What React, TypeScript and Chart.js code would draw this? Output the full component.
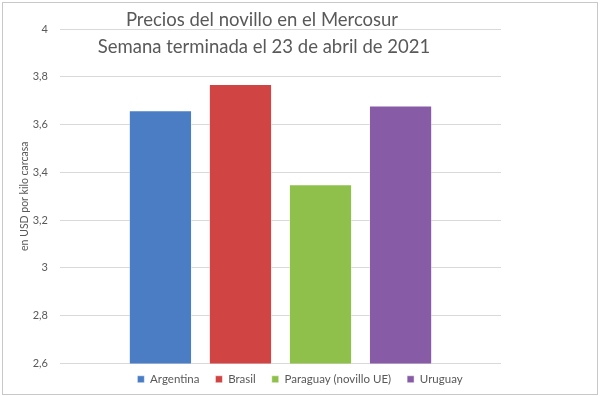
import React, { useEffect, useRef } from "react";
import { Chart, registerables } from "chart.js";

Chart.register(...registerables);

const titleLines = ["Precios del novillo en el Mercosur", "Semana terminada el 23 de abril de 2021"];
const categories = [""];
const seriesNames = ["Argentina", "Brasil", "Paraguay (novillo UE)", "Uruguay"];
const seriesValues = [3.66, 3.77, 3.35, 3.68];
const seriesColors = ["#4A7DC4", "#D04543", "#8FC04B", "#875BA6"];
const yAxisTitle = "en USD por kilo carcasa";
const yMin = 2.6;
const yMax = 4;
const yStep = 0.2;

const FONT = "Lato, 'Open Sans', sans-serif";

const titlePlugin = {
  id: "overlayTitle",
  afterLayout(chart: any) {
    if (chart.legend) {
      chart.legend.top -= 6;
      chart.legend.bottom -= 6;
    }
  },
  afterDraw(chart: any) {
    const ctx = chart.ctx;
    ctx.save();
    ctx.fillStyle = "#595959";
    ctx.font = `18.5px ${FONT}`;
    ctx.textAlign = "center";
    ctx.textBaseline = "middle";
    ctx.fillText(titleLines[0], 262, 20);
    ctx.fillText(titleLines[1], 264, 47);
    ctx.restore();
  },
};

export default function App() {
  const ref = useRef<HTMLCanvasElement>(null);
  useEffect(() => {
    const chart = new Chart(ref.current!, {
      type: "bar",
      data: {
        labels: categories,
        datasets: seriesNames.map((name, i) => ({
          label: name,
          data: [seriesValues[i]],
          backgroundColor: seriesColors[i],
          borderColor: "rgba(255,255,255,0.5)",
          borderWidth: 1,
          categoryPercentage: 0.726,
          barPercentage: 0.79,
        })),
      },
      options: {
        animation: false,
        responsive: false,
        layout: { padding: { top: 29, right: 0, left: 0, bottom: -5 } },
        plugins: {
          title: { display: false },
          tooltip: { enabled: false },
          legend: {
            position: "bottom",
            labels: {
              boxWidth: 7,
              boxHeight: 7,
              padding: 16,
              color: "#595959",
              font: { family: FONT, size: 11.5 },
            },
          },
        },
        scales: {
          x: { display: false },
          y: {
            min: yMin,
            max: yMax,
            border: { display: false },
            grid: { color: "#d9d9d9", drawTicks: false },
            afterFit(scale: any) {
              scale.width = 60;
            },
            ticks: {
              stepSize: yStep,
              padding: 12,
              color: "#595959",
              font: { family: FONT, size: 11 },
              callback: (v: any) => {
                const r = Math.round(v * 10) / 10;
                return Number.isInteger(r) ? String(r) : r.toFixed(1).replace(".", ",");
              },
            },
            title: {
              display: true,
              text: yAxisTitle,
              color: "#595959",
              font: { family: FONT, size: 10.5 },
              padding: { top: 18, bottom: 0 },
            },
          },
          spacer: {
            type: "linear",
            position: "right",
            display: true,
            border: { display: false },
            grid: { display: false },
            ticks: { display: false },
            afterFit(scale: any) {
              scale.width = 99;
            },
          },
        },
      },
      plugins: [titlePlugin],
    });
    return () => chart.destroy();
  }, []);
  return (
    <div style={{ position: "fixed", left: 0, top: 0, width: 600, height: 396, background: "#fff" }}>
      <div
        style={{
          position: "absolute",
          left: 2,
          top: 2,
          width: 594,
          height: 391,
          border: "1px solid #c8c8c8",
        }}
      />
      <canvas ref={ref} width={600} height={396} style={{ position: "absolute", left: 0, top: 0 }} />
    </div>
  );
}
